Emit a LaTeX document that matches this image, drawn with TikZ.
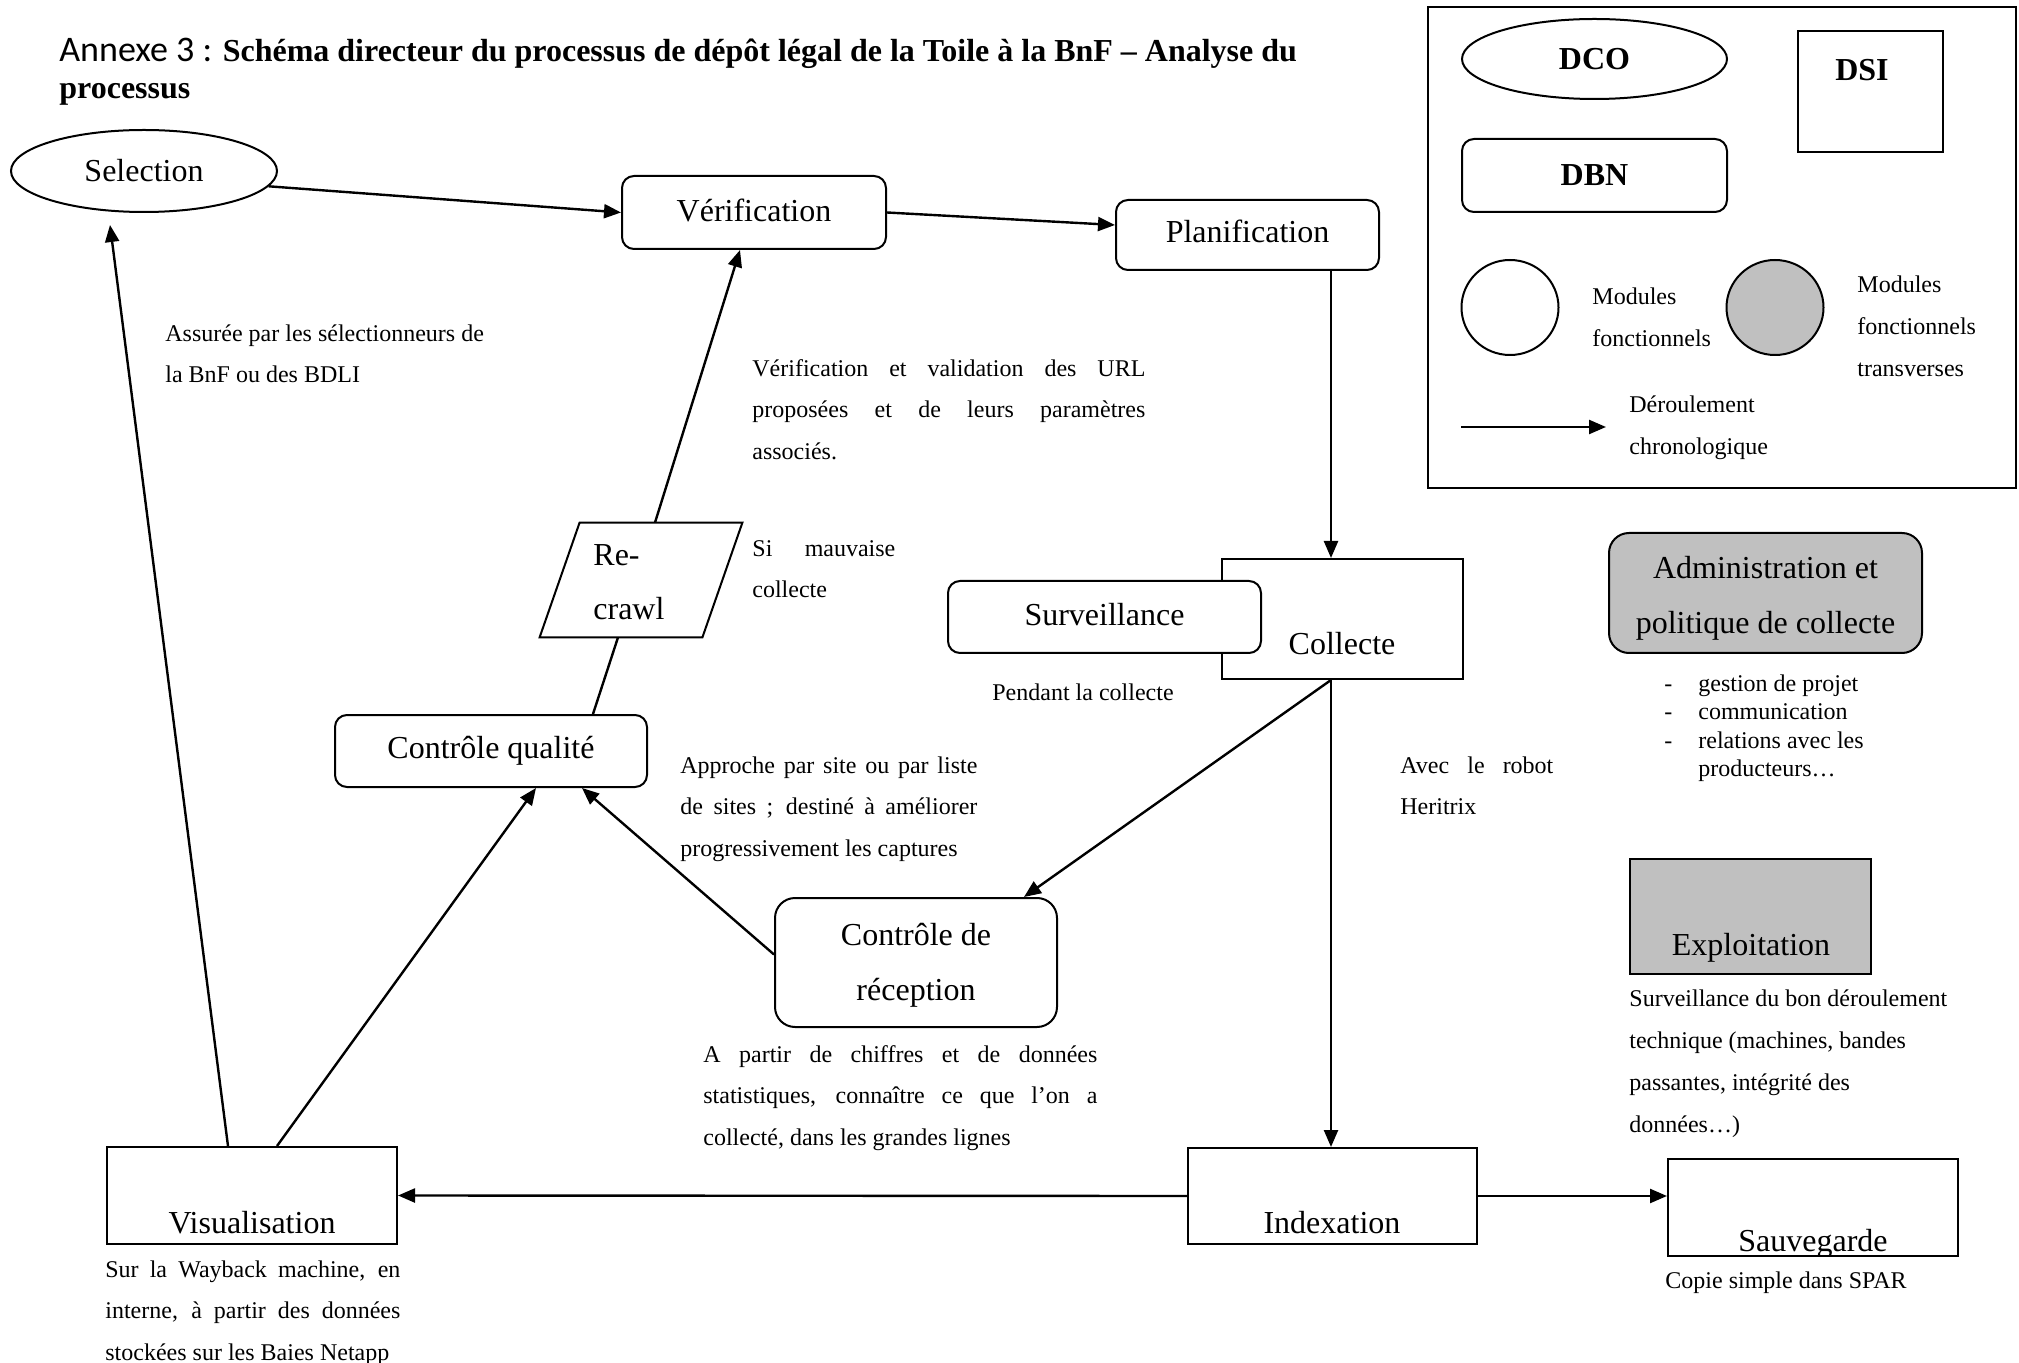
\documentclass[tikz,border=0pt]{standalone}
\usepackage{fontspec}
\setmainfont{Liberation Serif}
\newfontfamily\calib{Carlito}
\usetikzlibrary{shapes.geometric,arrows.meta}
\definecolor{silver}{RGB}{192,192,192}
\begin{document}
\begin{tikzpicture}[x=0.5pt,y=-0.5pt,
  box/.style={draw, line width=1pt, inner sep=0pt, font=\fontsize{16}{27.5}\selectfont, align=center},
  rbox/.style={box, rounded corners=6pt},
  oval/.style={box, ellipse},
  txt/.style={inner sep=0pt, font=\fontsize{12}{20.75}\selectfont, align=left, anchor=north west, yshift=-1.5pt},
  big/.style={inner sep=0pt, font=\fontsize{16}{27.5}\selectfont},
  bold/.style={inner sep=0pt, font=\bfseries\fontsize{16}{18}\selectfont},
  flow/.style={line width=1.2pt, -{Triangle[length=8.5pt,width=7pt]}},
  link/.style={line width=1.2pt},
]
\fill[white] (0,0) rectangle (2019,1363);
\useasboundingbox (0,0) rectangle (2019,1363);

% title
\node[anchor=base west, inner sep=0pt, font=\fontsize{16}{18.5}\selectfont] (tl1) at (59,62)
  {{\calib\fontsize{18}{20}\selectfont Annexe 3 :} \textbf{Schéma directeur du processus de dépôt légal de la Toile à la BnF – Analyse du}};
\node[anchor=base west, inner sep=0pt, font=\bfseries\fontsize{16}{18.5}\selectfont] (tl2) at (59,99) {processus};

% main flow nodes
\node[oval, minimum width=133pt, minimum height=41pt] (sel) at (144,171) {Selection};
\node[rbox, minimum width=132pt, minimum height=36.5pt] (ver) at (754,212.5) {\rule[-2.5pt]{0pt}{2.5pt}Vérification};
\node[rbox, minimum width=131.5pt, minimum height=35pt] (pla) at (1247.5,235) {\rule[-4pt]{0pt}{4pt}Planification};
\node[box, minimum width=120.5pt, minimum height=60pt] (col) at (1342.5,619) {};
\node[big, anchor=base] (colt) at (1342,654) {Collecte};
\node[rbox, fill=white, minimum width=156.5pt, minimum height=36pt] (sur) at (1104.5,617) {\rule[-2.5pt]{0pt}{2.5pt}Surveillance};
\node[rbox, minimum width=156pt, minimum height=36pt] (cq) at (491,751) {Contrôle qualité};
\node[rbox, rounded corners=10pt, minimum width=141pt, minimum height=64.5pt] (cdr) at (916,962.5) {\rule{0pt}{13.5pt}Contrôle de\\réception};

% re-crawl parallelogram
\node[inner sep=0pt, minimum width=101pt, minimum height=57pt] (rc) at (641,580) {};
\draw[line width=1pt] ([xshift=20pt]rc.north west) -- (rc.north east) -- ([xshift=-20pt]rc.south east) -- (rc.south west) -- cycle;
\node[inner sep=0pt, align=left, anchor=west, font=\fontsize{16}{27}\selectfont] (rct) at (593,582) {Re-\\crawl};

% bottom boxes
\node[box, minimum width=145pt, minimum height=48.5pt] (vis) at (252,1195.5) {};
\node[big, anchor=base] (vist) at (252,1233) {Visualisation};
\node[box, minimum width=144.5pt, minimum height=48pt] (idx) at (1332.5,1196) {};
\node[big, anchor=base] (idxt) at (1332,1233) {Indexation};
\begin{scope}
\clip (1668,1159) rectangle (1958,1256);
\node[big, anchor=base] (saut) at (1813,1251) {Sauvegarde};
\end{scope}
\node[box, minimum width=145pt, minimum height=48.5pt] (sau) at (1813,1207.5) {};

% transverse modules
\node[rbox, fill=silver, rounded corners=10pt, minimum width=156.5pt, minimum height=60pt] (adm) at (1765.5,593) {\rule{0pt}{16pt}Administration et\\politique de collecte};
\node[box, fill=silver, minimum width=120.5pt, minimum height=57.5pt] (exp) at (1750.5,916.5) {};
\node[big, anchor=base] (expt) at (1751,955) {Exploitation};

% legend
\node[draw, line width=1pt, inner sep=0pt, minimum width=294pt, minimum height=240.5pt] (leg) at (1722,247.5) {};
\node[oval, minimum width=132.5pt, minimum height=40pt, font=\bfseries\fontsize{16}{18}\selectfont] (dco) at (1594.5,59) {DCO};
\node[box, minimum width=72.5pt, minimum height=60.5pt] (dsi) at (1870.5,91.5) {};
\node[bold] (dsit) at (1862,70.5) {DSI};
\node[rbox, minimum width=132.5pt, minimum height=36.5pt, font=\bfseries\fontsize{16}{18}\selectfont] (dbn) at (1594.5,175.5) {DBN};
\node[draw, ellipse, line width=1pt, inner sep=0pt, minimum width=48.5pt, minimum height=47.5pt] (cw) at (1510,307.5) {};
\node[draw, ellipse, fill=silver, line width=1pt, inner sep=0pt, minimum width=48.5pt, minimum height=47.5pt] (cg) at (1775,307.5) {};
\node[txt, font=\fontsize{12}{21}\selectfont] (tmod) at (1592,284) {Modules\\fonctionnels};
\node[txt, font=\fontsize{12}{21}\selectfont] (tmodt) at (1857,272) {Modules\\fonctionnels\\transverses};
\node[txt, font=\fontsize{12}{21}\selectfont] (tder) at (1629,392) {Déroulement\\chronologique};
\coordinate (la1) at (1461,427);
\coordinate (la2) at (1606,427);
\draw[flow] (la1) -- (la2);

% descriptive texts
\node[txt] (tsel) at (165,321) {Assurée par les sélectionneurs de\\la BnF ou des BDLI};
\node[txt] (tver) at (752,356) {\makebox[196.5pt][s]{Vérification et validation des URL}\\\makebox[196.5pt][s]{proposées et de leurs paramètres}\\associés.};
\node[txt] (tsi) at (752,537) {\makebox[71.5pt][s]{Si mauvaise}\\collecte};
\node[txt] (tapp) at (680,753) {\makebox[148.5pt][s]{Approche par site ou par liste}\\\makebox[148.5pt][s]{de sites ; destiné à améliorer}\\progressivement les captures};
\node[txt] (tavec) at (1400,753) {\makebox[76.5pt][s]{Avec le robot}\\Heritrix};
\node[inner sep=0pt, font=\fontsize{12}{14}\selectfont] (tpend) at (1083,692) {Pendant la collecte};
\node[txt] (tcdr) at (703,1042) {\makebox[197pt][s]{A partir de chiffres et de données}\\\makebox[197pt][s]{statistiques, connaître ce que l’on a}\\collecté, dans les grandes lignes};
\node[txt] (tvis) at (105,1257) {\makebox[147.5pt][s]{Sur la Wayback machine, en}\\\makebox[147.5pt][s]{interne, à partir des données}\\stockées sur les Baies Netapp};
\node[txt, font=\fontsize{12}{21}\selectfont] (texp) at (1629,986) {Surveillance du bon déroulement\\technique (machines, bandes\\passantes, intégrité des\\données…)};
\node[inner sep=0pt, font=\fontsize{12}{14}\selectfont] (tspar) at (1786,1283) {Copie simple dans SPAR};
\node[txt, font=\fontsize{12}{14.3}\selectfont] (tlist) at (1664,671) {\makebox[17pt][l]{-}gestion de projet\\\makebox[17pt][l]{-}communication\\\makebox[17pt][l]{-}relations avec les\\\hspace*{17pt}producteurs…};

% connectors
\coordinate (vx) at (1331,0);
\draw[flow] (sel.-7.5) -- (ver.west);
\draw[flow] (ver.east) -- ([yshift=5pt]pla.west);
\draw[flow] (pla.south -| vx) -- (col.north -| vx);
\draw[flow] (col.south -| vx) -- (idx.north -| vx);
\draw[flow] (col.south -| vx) -- ([xshift=-17pt]cdr.north east);
\draw[flow] ([yshift=4pt]cdr.west) -- ([xshift=45.5pt]cq.south);
\draw[flow] (idx.west) -- (vis.east);
\draw[flow] (idx.east) -- (sau.west |- idx.east);
\draw[flow] ([xshift=12.5pt]vis.north) -- ([xshift=22.5pt]cq.south);
\draw[flow] ([xshift=-12pt]vis.north) -- ([xshift=-17pt,yshift=-6pt]sel.south);
\draw[link] ([xshift=51pt]cq.north) -- ([xshift=-11.5pt]rc.south);
\draw[flow] ([xshift=7pt]rc.north) -- ([xshift=-7pt]ver.south);
\end{tikzpicture}
\end{document}
